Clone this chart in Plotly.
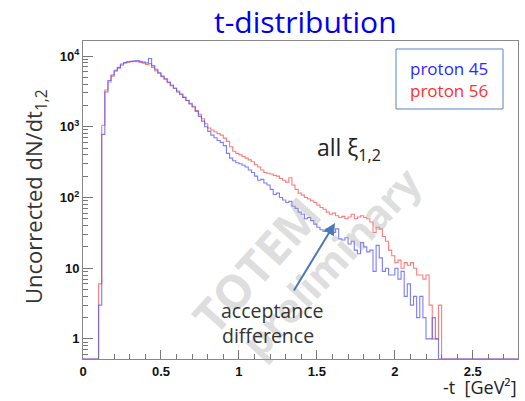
import numpy as np
import plotly.graph_objects as go

# histogram binning in -t [GeV^2]
bin_lo = 0.10
bin_width = 0.02

# counts per bin, starting at bin_lo
proton_45 = [3, 780, 3100, 4500, 5400, 6300, 6900, 7700, 8100, 8300,
             8400, 8500, 8600, 8400, 8200, 8000, 9200, 7300, 6500, 5800,
             5200, 4700, 4300, 3800, 3500, 3100, 2900, 2600, 2350, 2100,
             1900, 1650, 1400, 1200, 1000, 860, 760, 700, 640, 600,
             540, 420, 360, 330, 310, 300, 285, 270, 245, 225,
             200, 175, 180, 160, 150, 130, 110, 115, 100, 92,
             85, 88, 75, 70, 62, 58, 50, 52, 47, 42,
             38, 35, 33, 36, 34, 32, 36, 26, 25, 27,
             22, 24, 18, 16, 23, 20, 17, 18, 9, 21,
             14, 9, 10, 8, 8, 10, 7, 9, 4, 6,
             3, 4, 2, 4, 2, 1, 1, 2, 1, 0]

proton_56 = [6, 1050, 3300, 4300, 5200, 6100, 6700, 7400, 7900, 8200,
             8300, 8400, 8300, 8100, 7900, 7600, 7800, 6900, 6200, 5700,
             5100, 4800, 4200, 3900, 3500, 3200, 2850, 2600, 2350, 2150,
             1950, 1700, 1500, 1300, 1100, 960, 900, 850, 800, 760,
             690, 620, 520, 450, 420, 400, 380, 360, 340, 320,
             290, 270, 245, 225, 220, 215, 205, 200, 185, 175,
             165, 190, 150, 130, 115, 108, 100, 95, 90, 85,
             78, 72, 68, 62, 58, 60, 55, 52, 54, 50,
             53, 58, 50, 53, 55, 52, 50, 45, 32, 38,
             36, 28, 24, 18, 15, 12, 13, 10, 12, 11,
             12, 10, 8, 8, 7, 8, 3, 1, 1, 3, 0]

x_min, x_max = 0.0, 2.79
y_min, y_max = 0.52, 16300.0

tick_vals = [1, 10, 100, 1000, 10000]
tick_text = ["1", "10", "10<sup>2</sup>", "10<sup>3</sup>", "10<sup>4</sup>"]


def step_series(counts):
    """Histogram outline: empty bins sit on the lower frame edge."""
    edges = bin_lo + bin_width * np.arange(len(counts) + 1)
    vals = np.array(counts, dtype=float)
    vals[vals <= 0] = y_min
    x = np.concatenate([[x_min], edges, [x_max]])
    y = np.concatenate([[y_min], vals, [y_min, y_min]])
    return x, y


fig = go.Figure()
for counts, colour, name in [(proton_56, "rgba(255,80,80,0.75)", "proton 56"),
                             (proton_45, "rgba(80,80,255,0.75)", "proton 45")]:
    xs, ys = step_series(counts)
    fig.add_trace(go.Scatter(x=xs, y=ys, mode="lines", line_shape="hv",
                             line=dict(color=colour, width=1.1), name=name,
                             showlegend=False, hoverinfo="skip"))

tick_font = dict(family="Liberation Sans", size=13, color="#111", weight="bold")
fig.update_xaxes(range=[x_min, x_max], showline=True, linecolor="#888",
                 linewidth=1, mirror=True, ticks="inside", ticklen=9,
                 tickcolor="#777", dtick=0.5, tick0=0, tickfont=tick_font,
                 showgrid=False, zeroline=False,
                 minor=dict(ticks="inside", ticklen=5, dtick=0.1,
                            tickcolor="#777", showgrid=False))
fig.update_yaxes(type="log", range=[np.log10(y_min), np.log10(y_max)],
                 showline=True, linecolor="#888", linewidth=1, mirror=True,
                 ticks="inside", ticklen=10, tickcolor="#777",
                 tickvals=tick_vals, ticktext=tick_text, tickfont=tick_font,
                 showgrid=False, zeroline=False,
                 minor=dict(ticks="inside", ticklen=5, dtick="D1",
                            tickcolor="#777", showgrid=False))

# plot area in figure pixels
L, R, T, B = 83, 518, 41, 359


def to_paper(px, py):
    return (px - L) / (R - L), (B - py) / (B - T)


text_font = "Open Sans"
watermark = "rgba(160,160,160,0.35)"
annotations = [
    dict(text="t-distribution", x=305, y=22, font=dict(size=30, color="#0000ee")),
    dict(text="Uncorrected dN/dt<sub>1,2</sub>", x=35, y=197, textangle=-90,
         font=dict(size=22, color="#333")),
    dict(text="proton 45", x=449, y=68, font=dict(size=17, color="#2a2aff")),
    dict(text="proton 56", x=449, y=91, font=dict(size=17, color="#ff3030")),
    dict(text="all ξ<sub>1,2</sub>", x=349, y=148, font=dict(size=23, color="#222")),
    dict(text="-t  [GeV²]", x=518, y=400, xanchor="right", yanchor="bottom",
         font=dict(size=18, color="#222")),
    dict(text="TOTEM", x=256, y=265, textangle=-48,
         font=dict(size=47, color=watermark, weight="bold")),
    dict(text="preliminary", x=330, y=262, textangle=-47,
         font=dict(size=41, color=watermark, weight="bold")),
    dict(text="acceptance", x=272, y=310, font=dict(size=19.5, color="#333")),
    dict(text="difference", x=268, y=335, font=dict(size=19.5, color="#333")),
]

for a in annotations:
    xp, yp = to_paper(a.pop("x"), a.pop("y"))
    a["font"].setdefault("family", text_font)
    fig.add_annotation(x=xp, y=yp, xref="paper", yref="paper",
                       showarrow=False, borderpad=0,
                       xanchor=a.pop("xanchor", "center"),
                       yanchor=a.pop("yanchor", "middle"), **a)

# blue arrow pointing at the gap between the two histograms
hx, hy = to_paper(335, 223)
fig.add_annotation(x=hx, y=hy, ax=-42, ay=69,
                   xref="paper", yref="paper", axref="pixel", ayref="pixel",
                   showarrow=True, arrowhead=2, arrowsize=1.2, arrowwidth=2,
                   arrowcolor="#4a78b8", text="")

# legend frame
lx0, ly0 = to_paper(396, 109)
lx1, ly1 = to_paper(503, 49)
fig.add_shape(type="rect", xref="paper", yref="paper",
              x0=lx0, x1=lx1, y0=ly0, y1=ly1,
              line=dict(color="#5a82c0", width=1), fillcolor="white")

fig.update_layout(width=525, height=401, margin=dict(l=L, r=525 - R, t=T, b=401 - B),
                  paper_bgcolor="white", plot_bgcolor="white",
                  showlegend=False)

fig.write_html("out.html")
